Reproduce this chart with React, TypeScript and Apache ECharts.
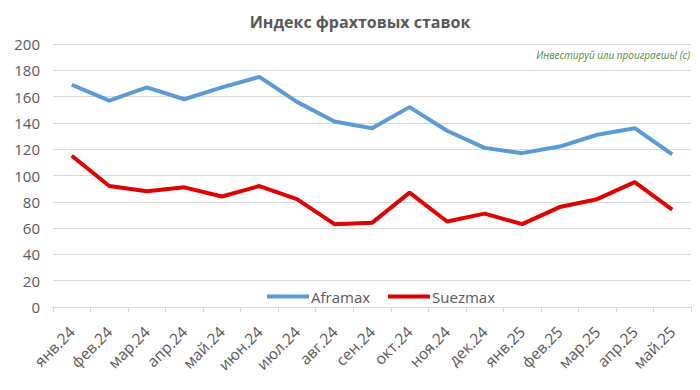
import React, { useEffect, useRef } from "react";
import * as echarts from "echarts";

const categories = ["янв.24","фев.24","мар.24","апр.24","май.24","июн.24","июл.24","авг.24","сен.24","окт.24","ноя.24","дек.24","янв.25","фев.25","мар.25","апр.25","май.25"];
const aframax = [169,157,167,158,167,175,156,141,136,152,134,121,117,122,131,136,116];
const suezmax = [115,92,88,91,84,92,82,63,64,87,65,71,63,76,82,95,74];
const yTicks = { min: 0, max: 200, interval: 20 };

const FONT = "'Open Sans', 'Noto Sans', sans-serif";
const GRAY = "#595959";

export default function App() {
  const ref = useRef<HTMLDivElement>(null);
  useEffect(() => {
    if (!ref.current) return;
    const chart = echarts.init(ref.current, undefined, { renderer: "svg" });
    chart.setOption({
      animation: false,
      backgroundColor: "#ffffff",
      title: {
        text: "Индекс фрахтовых ставок",
        left: 355,
        textAlign: "center",
        top: 9,
        textStyle: { fontFamily: FONT, fontSize: 16, fontWeight: "bold", color: GRAY },
      },
      graphic: [
        {
          type: "text",
          right: 10,
          top: 50,
          style: {
            text: "Инвестируй или проиграешь! (с)",
            fontFamily: FONT,
            fontStyle: "italic",
            fontSize: 10,
            fill: "#4E8A3E",
          },
        },
      ],
      legend: {
        data: ["Aframax", "Suezmax"],
        left: 262,
        top: 284,
        icon: "rect",
        itemWidth: 42,
        itemHeight: 4,
        itemGap: 18,
        textStyle: { fontFamily: FONT, fontSize: 15, color: GRAY, padding: [0, 0, 0, -3] },
      },
      grid: { left: 53, right: 9, top: 44, bottom: 83, containLabel: false },
      xAxis: {
        type: "category",
        data: categories,
        boundaryGap: true,
        axisLine: { lineStyle: { color: "#D9D9D9" } },
        axisTick: { show: true, length: 5, lineStyle: { color: "#D9D9D9" } },
        axisLabel: { rotate: 45, fontFamily: FONT, fontSize: 15.5, color: GRAY, margin: 22 },
      },
      yAxis: {
        type: "value",
        min: yTicks.min,
        max: yTicks.max,
        interval: yTicks.interval,
        axisLine: { show: false },
        axisTick: { show: false },
        splitLine: { lineStyle: { color: "#D9D9D9", width: 1 } },
        axisLabel: { fontFamily: FONT, fontSize: 15, color: GRAY, margin: 13 },
      },
      series: [
        {
          name: "Aframax",
          type: "line",
          data: aframax,
          symbol: "none",
          itemStyle: { color: "#5B9BD5" },
          lineStyle: { color: "#5B9BD5", width: 4 },
        },
        {
          name: "Suezmax",
          type: "line",
          data: suezmax,
          symbol: "none",
          itemStyle: { color: "#E00000" },
          lineStyle: { color: "#E00000", width: 4 },
        },
      ],
    });
    return () => chart.dispose();
  }, []);
  return <div ref={ref} style={{ width: 700, height: 390, position: "absolute", left: 0, top: 0 }} />;
}
